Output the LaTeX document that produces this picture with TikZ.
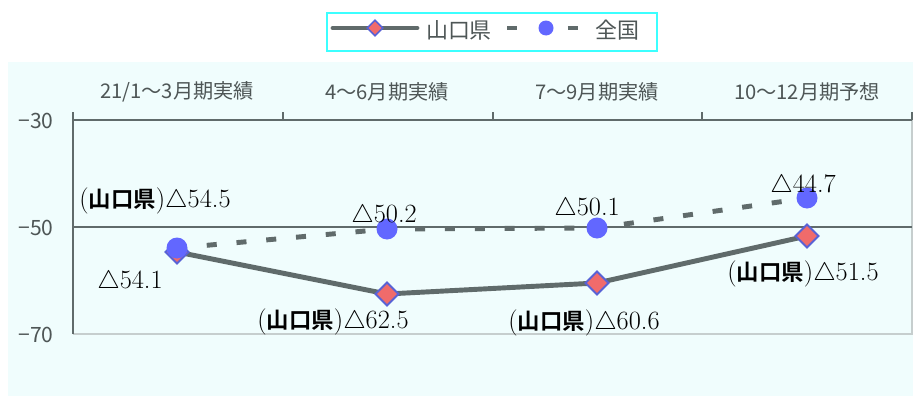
\documentclass[tikz,border=0pt]{standalone}
\usepackage{fontspec}
\usepackage{xcolor}
\newfontfamily\jpfont{Noto Sans CJK JP}
\newfontfamily\jpbold{Noto Sans CJK JP Bold}[Scale=0.85]
\usetikzlibrary{
	shapes.geometric,
	positioning
}
\definecolor{bgcyan}{HTML}{F0FDFD}
\definecolor{linegray}{HTML}{606B6B}
\definecolor{edgegray}{HTML}{C6CECE}
\definecolor{kenfill}{HTML}{F06B6B}
\definecolor{kenborder}{HTML}{5862D6}
\definecolor{zenfill}{HTML}{6267FF}
\definecolor{legcyan}{HTML}{3CFFFF}
\definecolor{textgray}{HTML}{4E5656}
\pgfdeclarelayer{bg}
\pgfdeclarelayer{lines}
\pgfsetlayers{bg,lines,main}
\tikzstyle{ken} = [diamond, draw=kenborder, fill=kenfill, line width=1.1pt, inner sep=0pt, minimum size=0.48cm]
\tikzstyle{zen} = [circle, fill=zenfill, inner sep=0pt, minimum size=0.42cm]
\tikzstyle{kenline} = [line width=2.8pt, draw=linegray]
\tikzstyle{zenline} = [line width=2.8pt, draw=linegray, dash pattern=on 5.7pt off 11.3pt]
\tikzstyle{val} = [font={\fontsize{15}{17}\selectfont}, inner sep=0pt, anchor=base]
\tikzstyle{cat} = [font={\jpfont\fontsize{11.5}{13}\selectfont}, text=textgray, inner sep=0pt]
\tikzstyle{tick} = [font={\jpfont\fontsize{12}{14}\selectfont}, text=textgray, inner sep=0pt, anchor=east]

\begin{document}
\begin{tikzpicture}[x=0.02cm, y=-0.02cm]
		
		\useasboundingbox (0,0) rectangle (913,396);
		
		% ====== Fond et axes ======
		\begin{pgfonlayer}{bg}
		\fill[bgcyan] (8,62) rectangle (913,396);
		\draw[edgegray, line width=1.7pt] (73,334) -- (912,334) -- (912,120);
		\draw[linegray, line width=1.1pt] (73,227) -- (912,227);
		\draw[linegray, line width=1.7pt] (73,334) -- (73,112);
		\draw[linegray, line width=1.7pt] (73,120) -- (912,120);
		\draw[linegray, line width=1.1pt] (283,120) -- (283,112) (493,120) -- (493,112) (702,120) -- (702,112) (912,120) -- (912,112);
		\end{pgfonlayer}
		
		\node[tick] (t30) at (54,121) {−30};
		\node[tick] (t50) at (54,228) {−50};
		\node[tick] (t70) at (54,335) {−70};
		
		\node[cat] (c1) at (177,92) {21/1〜3月期実績};
		\node[cat] (c2) at (387,92) {4〜6月期実績};
		\node[cat] (c3) at (597,92) {7〜9月期実績};
		\node[cat] (c4) at (807,92) {10〜12月期予想};
		
		% ====== Points ======
		\node[ken] (k1) at (177,252) {};
		\node[ken] (k2) at (387,294) {};
		\node[ken] (k3) at (597,283) {};
		\node[ken] (k4) at (807,236) {};
		
		\node[zen] (z1) at (177,248) {};
		\node[zen] (z2) at (387,229) {};
		\node[zen] (z3) at (597,228) {};
		\node[zen] (z4) at (807,198) {};
		
		\begin{pgfonlayer}{lines}
		\draw[kenline] (k1.center) -- (k2.center) -- (k3.center) -- (k4.center);
		\draw[zenline] (z1.center) -- (z2.center) -- (z3.center) -- (z4.center);
		\end{pgfonlayer}
		
		% ====== Valeurs ======
		\node[val] (v1) at (155,207) {({\jpbold 山口県})$\triangle$54.5};
		\node[val] (v2) at (130,288) {$\triangle$54.1};
		\node[val] (v3) at (333,328) {({\jpbold 山口県})$\triangle$62.5};
		\node[val] (v4) at (384,222) {$\triangle$50.2};
		\node[val] (v5) at (587,215) {$\triangle$50.1};
		\node[val] (v6) at (584,329) {({\jpbold 山口県})$\triangle$60.6};
		\node[val] (v7) at (803,192) {$\triangle$44.7};
		\node[val] (v8) at (803,280) {({\jpbold 山口県})$\triangle$51.5};
		
		% ====== Legende ======
		\node[draw=legcyan, line width=1.1pt, fill=white, minimum width=6.6cm, minimum height=0.76cm]
		(leg) at (492,32) {};
		
		\coordinate (lk0) at (333,28);
		\coordinate (lk1) at (417,28);
		\draw[kenline, line cap=round] (lk0) -- (lk1);
		\node[ken, minimum size=0.32cm, line width=0.9pt] (lk) at (375,28) {};
		\node[font={\jpfont\fontsize{12.5}{14}\selectfont}, text=textgray, inner sep=0pt] (lkt) at (459,30) {山口県};
		
		\coordinate (lz0) at (507,28);
		\coordinate (lz1) at (578,28);
		\draw[zenline, dash pattern=on 5.7pt off 28.9pt] (lz0) -- (lz1);
		\node[zen, minimum size=0.3cm] (lz) at (546,28) {};
		\node[font={\jpfont\fontsize{12.5}{14}\selectfont}, text=textgray, inner sep=0pt] (lzt) at (617,30) {全国};
		
	\end{tikzpicture}
\end{document}
